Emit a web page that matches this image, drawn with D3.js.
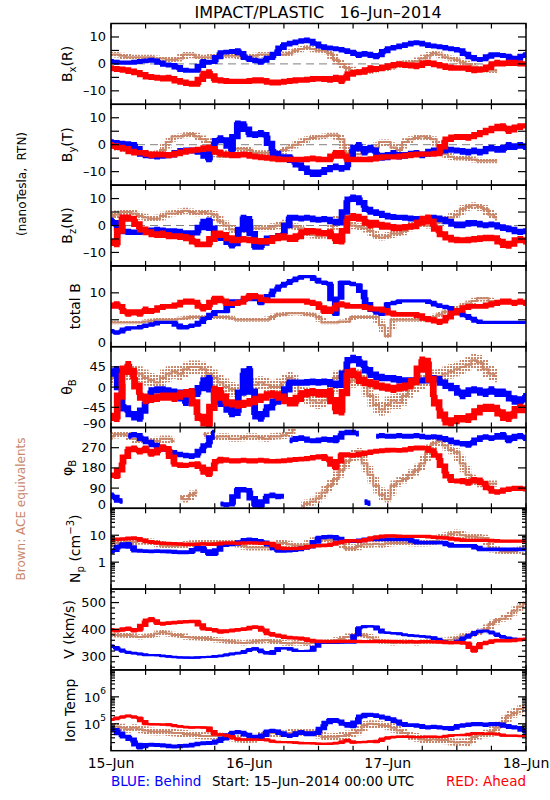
<!DOCTYPE html>
<html><head><meta charset="utf-8">
<script src="https://cdn.jsdelivr.net/npm/d3@7/dist/d3.min.js"></script>
<style>html,body{margin:0;padding:0;background:#fff;} svg{display:block;font-family:"DejaVu Sans",sans-serif;}</style>
</head><body>
<svg id="chart" width="550" height="800"></svg>
<script>
// ---------- time axis (hours since 15-Jun-2014 00:00 UTC, hourly samples 0..72) ----------
const hourTicks = [0,6,12,18,24,30,36,42,48,54,60,66,72];
const dayTickHours = [0,24,48,72];
const dayLabels = ['15–Jun','16–Jun','17–Jun','18–Jun'];

// ---------- Bx (R), nT ----------
const bxRed = [-1.5,-2,-2,-2.5,-3,-3.5,-4.5,-5,-5,-5.5,-5,-6,-6.5,-7,-7.5,-7.5,-4,-3,-6,-6,-6.5,-6.5,-6.5,-6.5,-6.5,-6,-6,-6.5,-7,
 -7,-6.5,-6.5,-6,-6,-6,-5.5,-5.5,-5.5,-6,-5,-6.5,-4,-3.5,-3,-3,-1.5,-2,-1.5,-1,-0.5,0,-0.5,-0.5,-1,0,0.5,0,-0.5,-1,-1.5,-1.5,-1.5,-1.5,-2.5,-2,-2,-0.5,0.5,0,0.5,0.5,0,0];
const bxBlue = [1,0.5,0.5,0.5,0.5,1,1,1.5,1,0,-0.5,-0.5,-2,-2.5,-2.5,-2.5,1,0.5,1,4,4.5,4.5,5,3,1.5,1.5,0.5,2,2.5,
 5,7,7.5,8,8.5,9,8,7,6,6,5.5,5.5,4.5,4.5,3,4,3.5,2.5,4,5.5,6,6.5,7,7.5,8,7.5,7,6.5,6.5,6,5.5,5.5,4.5,3,2,1.5,2,3.5,3.5,3,3,1.5,2.5,3.5];
const bxBrown = [3.5,3.5,3,2.5,2.5,2.5,2.5,2.5,2,2,1.5,1.5,2,3.5,3.5,2.5,2.5,2.5,3,3,3,3,3,2.5,2.5,3,3.5,3.5,3.5,
 3.5,3.5,4,5,5.5,6,5.5,5,5,4,1.5,0,-1.5,-2.5,-2.5,-3,-2.5,-2,-2,-1.5,-1,0,0.5,0.5,1,2,3,4,3.5,2.5,2,1.5,0.5,0,-1,-1.5,-2,-2.5,-2.5,null,null,null,null,null];

// ---------- By (T), nT ----------
const byRed = [0,-1,-1,-2,-3,-3,-3,-4,-3.5,-3.5,-4,-3.5,-3,-2.5,-2,-2,-1.5,-1,-2,-3.5,-3.5,-4,-4,-3.5,-4,-4.5,-4.5,-5,-5,
 -5.5,-5.5,-5.5,-5.5,-5.5,-5.5,-5,-5.5,-5.5,-5.5,-3,-3,-5.5,-5.5,-5.5,-5.5,-5.5,-5,-4.5,-4.5,-4.5,-4.5,-4,-4,-3.5,-3.5,-3.5,-3.5,-3,1.5,2.5,3,3,2.5,3.5,4,5,5.5,6.5,7,5,6,7,7];
const byBlue = [1,0.5,0.5,0,0,-3,-4,-4,-4.5,-4,-4,-3.5,-2.5,-2,-2,-2.5,-3,-5.5,0.5,2.5,1,-2,8,7.5,4,3.5,4.5,3,-2,
 -4.5,-4.5,-4.5,-7,-8,-9.5,-11,-11,-9.5,-9,-8,-9,-8,-2,0,-3,-1,-3,-5,-4.5,-3,-4.5,-4,-3.5,-3,-4,-3,-2,-3,-1.5,-2,-2,-2.5,-3,-2,-3,-2,-1,-2,-2,0,-1,0,-1];
const byBrown = [-1,-1,-1.5,-2,-2,-2.5,-3,-3.5,-4,-2,1,3,3,3.5,4,3,2,1,-3,-4.5,-4,-2,-1.5,-1.5,-2,-3,-3,-3,-3,
 -3.5,-2,-1,0,1,2,2.5,3,3,3.5,3.5,2,-3,-3.5,-3.5,-2,-1,-1,1,1,-1,-2,1,2,2.5,3,2.5,2,-1,-3.5,-4.5,-5,-5,-5,-5.5,-6,-6,-6,-6,null,null,null,null,null];

// ---------- Bz (N), nT ----------
const bzRed = [-6,-7,3,3,2,-1,-2,-3,-3.5,-3,-4,-4,-4,-4.5,-5,-7,-7,-7,-3,-3,-4,-5.5,-5.5,-5,-5.5,-5.5,-6,-6,-5.5,
 -4,-4,-5,-5,-3,-2,-2,-2.5,-3,-2.5,-5.5,-6,2,3.5,3,2,0,1,-0.5,0,-1,-1,-0.5,-0.5,0,2,3,0,-2.5,-4,-5,-5.5,-5.5,-5.5,-5,-5,-4.5,-4.5,-5,-7,-7.5,-6,-5,-6];
const bzBlue = [2,0,-2,-2.5,-2.5,-2.5,-2,-2,-1.5,-2,-2,-2,-2.5,-3,-3,-2.5,1,2,-4,-4.5,-5,-7.5,-6,3,2,-8,-8,-5,-4.5,
 -4.5,-3,3,3,2.5,3,2.5,2,2.5,2,1,1,9,10.5,10,7,5,5,4,3.5,3,3,3,2.5,2.5,2.5,2,3,2.5,2,1,0,0,1,1,0.5,0,0.5,0,-1,-1,-2,-2.5,-2];
const bzBrown = [3.5,4,5,5,4.5,3.5,3,2.5,2.5,3.5,4.5,4.5,5,5.5,5,4.5,5,4.5,4,1.5,0,-1.5,-2,-2,-1.5,-1,-1,-1,-0.5,
 0,1,0,-0.5,-1,-3,-3.5,-4,-3.5,-3,2,3,1,0,-0.5,-1,-2,-4,-4.5,-4,-3,-3,-2,0,0.5,0.5,0,0.5,1,2,3,4,6,7,7.5,7,6,4,3,null,null,null,null,null];

// ---------- total B, nT ----------
const btRed = [7.5,8,7,6,6.5,6,7,6.5,7,7.5,7.5,7.5,8,8.5,8.5,8,7,7.5,9,9,8,8,8,8.5,9.5,9.5,9,8.5,8.5,
 8.5,8.5,8.5,8.5,8.5,8.5,8,8,6.5,6.5,7.5,8,7.5,7.5,7.5,7.5,7,7,7,6.5,6,6,6,6,6,5.5,5,5,4.5,5,6,6.5,7,7.5,7.5,7.5,7.5,8,8,8.5,8.5,8,8.5,8];
const btBlue = [3,2.5,3,3.5,3.5,3.5,4,4,4.5,4.5,4.5,4.5,3.5,3.5,4,4,5,5.5,6.5,6.5,6.5,8.5,8.5,8.5,9,9.5,8,9,10,
 11,11.5,12,12.5,13,13,13,12,12,11.5,6,12,12,11.5,11.5,9,7,6.5,6,8,8,8.5,8.5,8.5,8.5,8.5,8.5,8,7.5,7.5,7,6.5,6,5.5,5,4.5,4.5,4.5,4.5,4.5,4.5,4.5,4.5,4.5];
const btBrown = [4.5,4.5,4.5,4.5,4.5,4.5,4.7,4.8,5,5,5,5,5.2,5.3,5.5,5.5,5.5,5.5,5.5,5.5,5.5,5.3,5,5,5,5,5,5,5.5,
 6,6,6.2,6.2,6.2,6,6,5.5,4.5,4.5,4.5,4.7,4.7,5.5,5.5,5.5,5.5,5.5,4,2,5,5,5,5,5,5,5,5.5,6,6.5,6.5,7,7.5,8,8.5,9,9,8.5,8.5,null,null,null,null,null];

// ---------- theta_B, degrees ----------
const thRed = [-65,-70,30,50,20,-15,-30,-25,-25,-20,-20,-25,-15,-15,-10,-60,-75,-85,-5,-10,-35,-35,-40,-37,-35,-30,-25,-20,-15,
 -20,-25,-35,-35,-15,-15,-10,-15,-15,-10,-50,-55,30,35,20,10,10,5,0,0,-5,0,0,5,20,60,55,-20,-50,-75,-80,-70,-70,-72,-60,-50,-45,-45,-50,-65,-70,-55,-45,-50];
const thBlue = [30,40,-40,-55,-65,-70,-35,-10,-5,-5,-10,-10,-15,-35,-10,-15,10,20,-30,-35,-40,-60,-55,30,40,-60,-70,-50,-40,
 -25,-20,10,10,10,10,12,10,12,10,5,5,55,65,60,45,30,25,20,20,20,15,15,15,15,15,15,20,15,5,0,-5,-20,-10,-5,-10,-15,-5,-15,-10,-20,-30,-35,-20];
const thBrown = [20,25,30,30,35,30,20,15,10,20,30,35,30,40,45,45,40,30,20,10,0,-5,-10,-5,0,5,10,5,0,
 0,10,20,10,-10,-20,-30,-35,-30,-20,20,25,10,15,25,5,-20,-40,-50,-40,-30,-35,-20,0,5,10,20,25,25,30,35,40,45,50,60,55,40,30,25,null,null,null,null,null];

// ---------- phi_B, degrees ----------
const phRed = [150,140,200,260,270,250,270,240,250,275,260,200,190,190,195,200,170,150,200,220,215,210,210,215,210,210,215,210,210,
 210,212,215,218,220,220,225,230,232,210,180,240,240,235,240,245,250,255,255,260,260,258,260,265,270,270,265,250,220,160,125,120,125,110,130,125,100,80,70,80,85,90,90,85];
const phBlue = [60,40,30,320,330,320,300,290,275,270,255,245,240,235,230,240,270,290,340,20,15,20,85,85,75,15,10,50,60,
 50,55,300,310,315,305,300,300,310,305,300,330,340,340,330,30,20,320,325,320,320,325,320,320,325,320,315,320,315,310,300,290,290,280,300,310,320,310,320,330,300,320,325,310];
const phBrown = [320,330,330,325,310,300,305,300,300,310,310,300,50,40,60,70,330,320,315,320,320,310,310,315,320,320,315,310,320,
 320,325,335,350,10,20,30,45,70,100,130,170,210,240,255,200,150,100,60,40,100,120,130,150,170,200,250,290,300,280,260,250,200,150,120,110,105,110,110,null,null,null,null,null];

// ---------- Np, cm^-3 ----------
const npRed = [6.6,7.1,7.1,7.6,7.9,7.1,6.0,5.6,5.2,5.0,5.0,4.8,4.8,4.5,4.6,4.6,4.8,4.6,4.6,5.0,5.2,5.2,5.0,5.2,5.2,5.2,5.0,5.2,4.8,
 3.5,3.2,3.2,3.2,3.3,3.5,4.0,4.0,4.2,4.3,5.0,5.6,6.3,6.3,6.0,6.3,7.5,8.5,9,9.5,9.5,9,9,9,9,9,9,8.5,8,8,7.5,7,6.5,6.5,6.5,6.5,6.5,6.5,6,6,6,6,6,6];
const npBlue = [2.4,3.2,4.5,4.8,2.8,2.6,2.6,2.5,2.6,2.5,2.5,2.4,2.3,2.3,2.4,3.5,3.3,2.0,2.0,4.0,4.6,4.6,5.0,6.3,7.1,6.3,6.0,5.0,4.0,
 2.6,2.6,2.8,2.8,3.2,3.5,4.0,8,8.5,9,8.5,6.5,6,6,6,7,7,7,7,7,7,7,7,7,5.3,5.3,5.3,5.3,5.3,5.3,4,4,4,4,4,3,3,3,3,3,3,3,3,3];
const npBrown = [5.0,5.2,5.2,5.6,5.6,6.0,6.0,5.6,5.2,4.2,4.0,4.0,4.2,4.5,5.0,5.0,5.2,5.2,5.2,5.2,5.0,5.2,5.2,4.0,3.5,3.5,3.5,3.5,3.5,
 5.0,5.2,4.5,4.2,4.2,4.5,6.0,7.1,7.1,6.6,6.3,5.6,3.2,3.2,4.0,4.5,4.5,4.8,4.5,5.0,5.2,5.2,5.2,5.2,5.0,5.0,5.2,6.0,8.3,8.9,11,12.6,10,8.9,8.9,8.3,7.9,3.2,2.8,2.5,2.4,2.6,2.8,3.2];

// ---------- V, km/s ----------
const vRed = [400,395,400,405,395,400,430,440,425,420,425,425,428,428,430,430,405,400,400,390,395,395,400,400,405,410,405,390,380,
 378,372,370,368,368,362,358,356,355,355,355,356,356,356,355,355,355,355,356,356,355,355,354,355,354,355,355,354,355,352,350,352,350,348,320,345,350,355,360,358,358,360,362,364];
const vBlue = [340,330,320,315,312,310,305,305,305,302,300,298,296,296,295,296,298,298,300,302,305,310,312,315,325,330,320,312,310,
 330,330,330,320,320,320,322,350,350,350,350,352,352,352,405,412,412,410,390,388,386,385,380,378,376,375,372,370,360,352,350,352,365,375,385,395,395,390,380,372,368,365,362,362];
const vBrown = [385,380,378,380,375,372,375,378,385,390,385,380,380,372,370,368,368,365,362,360,358,355,352,350,352,355,358,360,355,
 355,350,348,352,350,348,350,352,352,355,360,365,372,380,382,378,370,362,355,352,350,352,355,352,350,352,355,355,358,360,362,368,375,380,385,390,400,420,435,440,450,470,485,495];

// ---------- Ion temperature, K ----------
const tRed = [1.4e5,1.6e5,1.8e5,2.0e5,1.8e5,1.6e5,1.0e5,9.5e4,9.5e4,9.3e4,9.5e4,8.5e4,7.9e4,7.6e4,7.2e4,7.4e4,7.2e4,7.1e4,4.0e4,4.0e4,3.8e4,3.2e4,2.6e4,2.6e4,2.6e4,2.6e4,2.5e4,2.6e4,2.2e4,
 2.1e4,2.1e4,2.1e4,2.0e4,1.9e4,1.9e4,1.9e4,1.8e4,1.8e4,1.8e4,1.9e4,2.0e4,2.5e4,2.0e4,2.1e4,2.1e4,2.2e4,2.1e4,2.6e4,3.0e4,3.2e4,3.3e4,3.3e4,3.2e4,3.2e4,3.2e4,3.3e4,3.3e4,3.2e4,3.4e4,3.7e4,3.8e4,3.8e4,4.0e4,4.5e4,4.5e4,4.2e4,4.3e4,4.2e4,3.7e4,3.6e4,3.6e4,3.5e4,3.5e4];
const tBlue = [6.3e4,5.6e4,3.5e4,3.2e4,2.2e4,1.3e4,1.6e4,1.7e4,1.6e4,1.6e4,1.5e4,1.4e4,1.5e4,1.5e4,1.6e4,1.8e4,1.9e4,1.9e4,2.0e4,2.5e4,3.2e4,4.5e4,5.0e4,4.5e4,3.5e4,3.2e4,2.8e4,5.0e4,5.6e4,
 5.0e4,4.0e4,3.5e4,4.0e4,5.0e4,4.0e4,4.0e4,5.0e4,8.9e4,1.4e5,1.4e5,1.1e5,8.9e4,7.9e4,1.6e5,2.2e5,2.2e5,2.0e5,1.8e5,1.6e5,1.4e5,1.1e5,8.9e4,8.9e4,8.9e4,7.9e4,7.1e4,7.9e4,7.1e4,7.1e4,6.3e4,7.9e4,8.9e4,8.9e4,1.0e5,1.0e5,8.9e4,1.0e5,1.0e5,8.9e4,7.9e4,7.1e4,7.1e4,5.0e4];
const tBrown = [7.1e4,7.9e4,7.1e4,6.3e4,7.1e4,6.3e4,5.6e4,5.2e4,5.0e4,5.2e4,5.0e4,4.5e4,4.5e4,4.2e4,4.0e4,3.8e4,3.5e4,3.5e4,3.5e4,3.5e4,3.3e4,3.2e4,2.8e4,2.6e4,2.5e4,2.8e4,3.5e4,4.0e4,4.5e4,
 4.5e4,4.0e4,4.5e4,5.0e4,4.8e4,5.0e4,5.0e4,4.5e4,3.2e4,3.3e4,3.3e4,3.5e4,3.8e4,4.5e4,5.6e4,8.9e4,1.0e5,9.5e4,8.9e4,8.3e4,7.1e4,5.6e4,4.5e4,3.5e4,3.2e4,2.6e4,2.5e4,2.6e4,2.5e4,2.5e4,2.2e4,2.0e4,2.1e4,2.0e4,3.2e4,3.8e4,4.0e4,5.0e4,7.1e4,1.1e5,2.0e5,2.5e5,3.5e5,4.0e5];

// scatter half-widths: [red, blue, brown] (linear units, or factors on log panels)
const bxSpread = [1.0,0.8,0.9], bySpread = [1.0,1.0,0.9], bzSpread = [1.1,1.0,1.1], btSpread = [0.45,0.3,0.35];
const thSpread = [8,7,14], phSpread = [10,10,14], npSpread = [1.15,1.17,1.3], vSpread = [6,4,9], tSpread = [1.1,1.17,1.35];

// ---------- tick labels ----------
const bTicks = [-10,-5,0,5,10], bLabelVals = [-10,0,10], bLabels = ['–10','0','10'];
const btTicks = [0,5,10], btLabelVals = [0,10], btLabels = ['0','10'];
const thTicks = [-90,-45,0,45,90], thLabelVals = [-90,-45,0,45], thLabels = ['–90','–45','0','45'];
const phTicks = [0,90,180,270,360], phLabelVals = [0,90,180,270], phLabels = ['0','90','180','270'];
const npLabelVals = [1,10], npLabels = ['1','10'];
const vTicks = [300,400,500], vLabels = ['300','400','500'];
const tLabelVals = [1e5,1e6], tLabelExps = ['5','6'];

// ---------- colours ----------
const RED = '#ff0000', BLUE = '#0000ff', BROWN = '#c8876a';

// ---------- layout ----------
const svg = d3.select('#chart');
const L = 111, R = 526, TOP = 23.5, PH = 80.8;
const x = d3.scaleLinear().domain([0,72]).range([L,R]);

// dotted fill for the sparse ACE scatter
const pat = svg.append('defs').append('pattern').attr('id','browndots').attr('patternUnits','userSpaceOnUse')
  .attr('width',3).attr('height',3);
pat.append('rect').attr('x',0).attr('y',0).attr('width',2).attr('height',2).attr('fill',BROWN);

const panels = [
  {red:bxRed, blue:bxBlue, brown:bxBrown, sp:bxSpread, dom:[-15,15], log:false, ticks:bTicks, lv:bLabelVals, lt:bLabels, zero:true,
   title:[['B','n'],['x','sub'],['(R)','n']], tx:72},
  {red:byRed, blue:byBlue, brown:byBrown, sp:bySpread, dom:[-15,15], log:false, ticks:bTicks, lv:bLabelVals, lt:bLabels, zero:true,
   title:[['B','n'],['y','sub'],['(T)','n']], tx:72},
  {red:bzRed, blue:bzBlue, brown:bzBrown, sp:bzSpread, dom:[-15,15], log:false, ticks:bTicks, lv:bLabelVals, lt:bLabels, zero:true,
   title:[['B','n'],['z','sub'],['(N)','n']], tx:72},
  {red:btRed, blue:btBlue, brown:btBrown, sp:btSpread, dom:[0,15], log:false, ticks:btTicks, lv:btLabelVals, lt:btLabels,
   title:[['total B','n']], tx:80},
  {red:thRed, blue:thBlue, brown:thBrown, sp:thSpread, dom:[-90,90], log:false, ticks:thTicks, lv:thLabelVals, lt:thLabels,
   title:[['θ','n'],['B','sub']], tx:72},
  {red:phRed, blue:phBlue, brown:phBrown, sp:phSpread, dom:[0,360], log:false, ticks:phTicks, lv:phLabelVals, lt:phLabels, wrap:true,
   title:[['φ','n'],['B','sub']], tx:72},
  {red:npRed, blue:npBlue, brown:npBrown, sp:npSpread, dom:[0.1,100], log:true, lv:npLabelVals, lt:npLabels,
   title:[['N','n'],['p','sub'],[' (cm','n'],['−3','sup'],[')','n']], tx:80},
  {red:vRed, blue:vBlue, brown:vBrown, sp:vSpread, dom:[250,550], log:false, ticks:vTicks, minor:d3.range(260,550,20).filter(v=>v%100!==0), lv:vTicks, lt:vLabels,
   title:[['V (km/s)','n']], tx:74},
  {red:tRed, blue:tBlue, brown:tBrown, sp:tSpread, dom:[1e4,1e7], log:true, lv:tLabelVals, lexp:tLabelExps,
   title:[['Ion Temp','n']], tx:75}
];

function rich(sel, parts, size){
  let shift = 0;
  parts.forEach(([t,m])=>{
    const target = m==='sub' ? 0.32*size : m==='sup' ? -0.42*size : 0;
    sel.append('tspan').attr('dy', target - shift).attr('font-size', m==='n' ? size : size*0.72).text(t);
    shift = target;
  });
}

// points with envelope: each sample spans to the midpoints with its neighbours (vertical jumps are filled)
function envelope(arr, wrap, log, s){
  const f = log ? Math.log10 : (v=>v);
  const inv = log ? (v=>Math.pow(10,v)) : (v=>v);
  const ok = (a,b)=> a!=null && b!=null && !(wrap && Math.abs(a-b)>180);
  const out = [];
  arr.forEach((v,i)=>{
    if (wrap && i>0 && v!=null && arr[i-1]!=null && Math.abs(v-arr[i-1])>180) out.push({h:i-0.5, v:null});
    if (v==null){ out.push({h:i, v:null}); return; }
    let lo = f(v), hi = f(v);
    [i-1,i+1].forEach(j=>{
      if (j>=0 && j<arr.length && ok(arr[j],v)){
        const m = (f(arr[j])+f(v))/2; lo = Math.min(lo,m); hi = Math.max(hi,m);
      }
    });
    const ds = log ? Math.log10(s) : s;
    out.push({h:i, v:v, lo:inv(lo-ds), hi:inv(hi+ds)});
  });
  return out;
}

panels.forEach((p,i)=>{
  const y0 = TOP + i*PH, y1 = y0 + PH;
  const y = p.log ? d3.scaleLog().domain(p.dom).range([y1,y0]) : d3.scaleLinear().domain(p.dom).range([y1,y0]);
  const g = svg.append('g');
  const cid = 'clip'+i;
  svg.append('clipPath').attr('id',cid).append('rect').attr('x',L).attr('y',y0).attr('width',R-L).attr('height',PH);
  const dg = g.append('g').attr('clip-path',`url(#${cid})`);

  if (p.zero) dg.append('line').attr('x1',L).attr('x2',R).attr('y1',y(0)).attr('y2',y(0))
      .attr('stroke','#808080').attr('stroke-width',1).attr('stroke-dasharray','8,5');

  const order = [[p.brown,2,BROWN],[p.blue,1,BLUE],[p.red,0,RED]];
  order.forEach(([arr,k,col])=>{
    const pts = envelope(arr, p.wrap, p.log, p.sp[k]);
    const area = d3.area().defined(d=>d.v!=null).curve(d3.curveStep)
      .x(d=>x(d.h)).y0(d=>y(d.lo)).y1(d=>y(d.hi));
    const line = d3.line().defined(d=>d.v!=null).curve(d3.curveStep).x(d=>x(d.h)).y(d=>y(d.v));
    dg.append('path').datum(pts).attr('d',area).attr('fill', k===2 ? 'url(#browndots)' : col);
    dg.append('path').datum(pts).attr('d',line).attr('fill','none').attr('stroke',col).attr('stroke-width', 2);
  });

  // frame
  g.append('rect').attr('x',L).attr('y',y0).attr('width',R-L).attr('height',PH)
    .attr('fill','none').attr('stroke','#000').attr('stroke-width',1.5);

  // x ticks (top & bottom, inward)
  hourTicks.forEach(h=>{
    g.append('line').attr('x1',x(h)).attr('x2',x(h)).attr('y1',y1).attr('y2',y1-5).attr('stroke','#000').attr('stroke-width',1.2);
    g.append('line').attr('x1',x(h)).attr('x2',x(h)).attr('y1',y0).attr('y2',y0+5).attr('stroke','#000').attr('stroke-width',1.2);
  });

  // y ticks
  const yt = (v,len)=>{
    const yy = y(v);
    g.append('line').attr('x1',L).attr('x2',L+len).attr('y1',yy).attr('y2',yy).attr('stroke','#000').attr('stroke-width',1.2);
    g.append('line').attr('x1',R).attr('x2',R-len).attr('y1',yy).attr('y2',yy).attr('stroke','#000').attr('stroke-width',1.2);
  };
  if (p.log){
    const d0 = Math.round(Math.log10(p.dom[0])), d1 = Math.round(Math.log10(p.dom[1]));
    for (let d=d0; d<=d1; d++){
      if (d>d0 && d<d1) yt(Math.pow(10,d),8);
      if (d<d1) for (let k=2;k<=9;k++) yt(k*Math.pow(10,d),4);
    }
  } else {
    p.ticks.forEach(v=>{ if (v>p.dom[0] && v<p.dom[1]) yt(v,8); });
    if (p.minor) p.minor.forEach(v=>yt(v,4));
  }

  // y tick labels
  p.lv.forEach((v,j)=>{
    const yy = Math.min(y(v), y1-4);
    const t = g.append('text').attr('x',L-5).attr('y',yy).attr('text-anchor','end')
      .attr('dominant-baseline','central').attr('font-size',13).attr('fill','#000');
    if (p.lexp){ t.append('tspan').text('10'); t.append('tspan').attr('font-size',9).attr('dy',-6).text(p.lexp[j]); }
    else t.text(p.lt[j]);
  });

  // y title (rotated)
  const tt = g.append('text').attr('transform',`translate(${p.tx},${(y0+y1)/2}) rotate(-90)`)
    .attr('text-anchor','middle').attr('fill','#000');
  rich(tt, p.title, 14);
});

// x date labels
const yb = TOP + 9*PH;
dayTickHours.forEach((h,j)=>{
  svg.append('text').attr('x',x(h)).attr('y',yb+17).attr('text-anchor','middle').attr('font-size',14).text(dayLabels[j]);
});

// title
svg.append('text').attr('x',318).attr('y',18).attr('text-anchor','middle').attr('font-size',16)
  .attr('xml:space','preserve').text('IMPACT/PLASTIC   16–Jun–2014');

// side labels
svg.append('text').attr('transform','translate(26,184) rotate(-90)').attr('text-anchor','middle')
  .attr('font-size',12).attr('xml:space','preserve').text('(nanoTesla,  RTN)');
svg.append('text').attr('transform','translate(25,509) rotate(-90)').attr('text-anchor','middle')
  .attr('font-size',12).attr('fill',BROWN).text('Brown: ACE equivalents');

// bottom legend row
svg.append('text').attr('x',111).attr('y',786).attr('font-size',13.5).attr('fill',BLUE).text('BLUE: Behind');
svg.append('text').attr('x',212).attr('y',786).attr('font-size',13.5).attr('fill','#000').text('Start: 15–Jun–2014 00:00 UTC');
svg.append('text').attr('x',526).attr('y',786).attr('text-anchor','end').attr('font-size',13.5).attr('fill',RED).text('RED: Ahead');
</script>
</body></html>
